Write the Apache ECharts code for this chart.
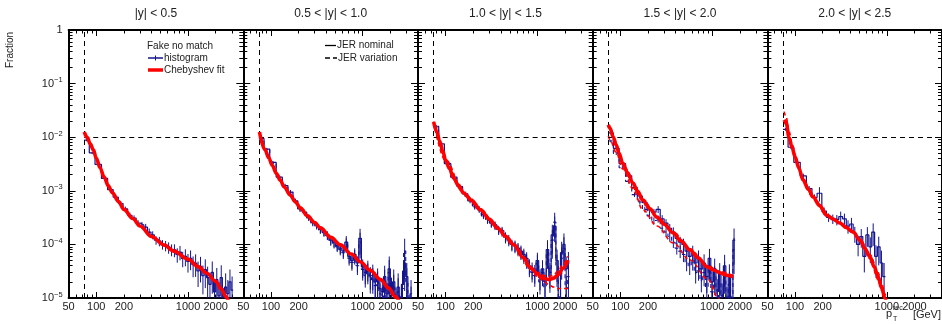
<!DOCTYPE html>
<html><head><meta charset="utf-8">
<script src="https://cdn.jsdelivr.net/npm/echarts@6/dist/echarts.min.js"></script>
<style>html,body{margin:0;padding:0;background:#fff}#c{width:942px;height:324px}</style>
</head><body><div id="c"></div>
<script>
// ---------------- data ----------------
const panelTitles = ['|y| < 0.5', '0.5 < |y| < 1.0', '1.0 < |y| < 1.5', '1.5 < |y| < 2.0', '2.0 < |y| < 2.5'];
const xTickLabels = [50, 100, 200, 1000, 2000];
const xMajorTicks = [100, 1000];
const xMinorTicks = [60, 70, 80, 90, 200, 300, 400, 500, 600, 700, 800, 900, 2000, 3000];
const yTickExponents = [-5, -4, -3, -2, -1, 0];
const xRange = [50, 4000];
const yRange = [1e-5, 1];
const jetPtCut = 74;
const fractionRef = 0.01;

const binEdges = [74,84,97,114,133,153,174,196,220,245,272,300,330,362,395,430,468,507,548,592,638,686,737,790,846,905,967,1032,1101,1172,1248,1327,1410,1497,1588,1684,1784,1890,2000,2116,2238,2366,2500,2640,2787,2941,3103,3273,3450];

// |y| < 0.5
const hist1 = [0.0088,0.0051,0.0031,0.0017,0.00105,7.6e-4,5.8e-4,4.6e-4,3.5e-4,3.1e-4,2.5e-4,2.3e-4,2.1e-4,1.7e-4,1.5e-4,1.2e-4,1.15e-4,1.0e-4,9.5e-5,8.8e-5,8.0e-5,7.9e-5,6.5e-5,7.2e-5,5.5e-5,6.0e-5,4.8e-5,5.5e-5,4.2e-5,4.5e-5,3.2e-5,3.9e-5,2.6e-5,3.4e-5,2.4e-5,1.8e-5,3.0e-5,1.3e-5,2.2e-5,1.1e-5,2.4e-5,8e-6,1.6e-5,1.2e-5,2.0e-5,1.4e-5];
const relErr1 = [0.05,0.05,0.06,0.07,0.08,0.09,0.1,0.1,0.12,0.12,0.13,0.14,0.15,0.16,0.17,0.18,0.2,0.2,0.22,0.24,0.25,0.27,0.3,0.3,0.32,0.35,0.38,0.4,0.42,0.45,0.5,0.5,0.55,0.55,0.6,0.65,0.6,0.7,0.65,0.8,0.7,0.9,0.8,0.8,0.7,0.8];
const fit1X = [74,80,86,93,100,110,122,135,150,175,200,250,300,400,550,700,1000,1300,1600,2000,2300,2600,2800];
const fit1Y = [0.0125,0.0098,0.0075,0.0058,0.0041,0.0027,0.0018,0.00125,9.2e-4,6.3e-4,4.5e-4,3.05e-4,2.2e-4,1.4e-4,9.7e-5,7.5e-5,5.3e-5,3.8e-5,2.9e-5,2.05e-5,1.47e-5,1.05e-5,8e-6];

// 0.5 < |y| < 1.0
const hist2 = [0.0095,0.0060,0.0034,0.0018,0.00125,9.5e-4,6.5e-4,4.6e-4,4.0e-4,3.2e-4,2.6e-4,2.3e-4,1.9e-4,1.7e-4,1.5e-4,1.2e-4,1.1e-4,9.5e-5,8.5e-5,7.5e-5,1.1e-4,6.0e-5,5.0e-5,6.5e-5,4.5e-5,1.3e-4,3.8e-5,3.0e-5,3.5e-5,2.6e-5,2.8e-5,2.0e-5,2.3e-5,1.5e-5,1.3e-5,2.5e-5,1.2e-5,3.5e-5,1.5e-5,2.0e-5,9e-6,1.6e-5,6e-6,1.8e-5,4.5e-5,2.5e-5,6e-6,1.2e-5];
const hist2Var = [0.0093,0.0058,0.0033,0.0018,0.0012,9.2e-4,6.3e-4,4.5e-4,3.9e-4,3.1e-4,2.5e-4,2.2e-4,1.85e-4,1.65e-4,1.45e-4,1.15e-4,1.05e-4,9.0e-5,8.0e-5,7.0e-5,1.0e-4,5.5e-5,4.6e-5,6.0e-5,4.0e-5,1.1e-4,3.4e-5,2.6e-5,3.1e-5,2.2e-5,2.4e-5,1.7e-5,2.0e-5,1.2e-5,1.0e-5,2.1e-5,9e-6,3.0e-5,1.2e-5,1.6e-5,7e-6,1.3e-5,4e-6,1.5e-5,7.5e-5,2.0e-5,4e-6,9e-6];
const relErr2 = [0.05,0.05,0.06,0.07,0.08,0.09,0.1,0.1,0.11,0.12,0.13,0.14,0.15,0.16,0.17,0.18,0.2,0.2,0.22,0.24,0.3,0.27,0.3,0.3,0.33,0.5,0.38,0.4,0.42,0.45,0.5,0.5,0.55,0.55,0.6,0.6,0.6,0.7,0.6,0.7,0.7,0.8,0.8,0.8,0.7,0.8,0.9,0.8];
const fit2X = [75,86,95,103,115,126,140,162,185,209,250,300,345,450,571,750,946,1200,1567,1900,2285,2500];
const fit2Y = [0.0125,0.0058,0.0041,0.0030,0.0021,0.00158,0.00118,8.3e-4,6.2e-4,4.8e-4,3.4e-4,2.55e-4,2.03e-4,1.35e-4,9.8e-5,6.6e-5,4.7e-5,3.3e-5,2.2e-5,1.55e-5,1.05e-5,8.5e-6];

// 1.0 < |y| < 1.5
const hist3 = [0.016,0.0075,0.0032,0.0018,0.0012,8.8e-4,6.8e-4,5.2e-4,4.6e-4,3.6e-4,3.0e-4,2.5e-4,2.3e-4,1.9e-4,1.8e-4,1.4e-4,1.25e-4,1.0e-4,9.5e-5,8.5e-5,7.5e-5,6.5e-5,5.5e-5,4.0e-5,3.4e-5,3.0e-5,5.0e-5,2.4e-5,3.5e-5,2.0e-5,8.0e-5,3.0e-5,1.5e-4,2.2e-4,5.0e-5,6e-6,7.0e-5,1.0e-4,3.5e-5,4.5e-5];
const hist3Var = [0.015,0.0072,0.0031,0.0017,0.00115,8.5e-4,6.5e-4,5.0e-4,4.4e-4,3.4e-4,2.8e-4,2.4e-4,2.2e-4,1.8e-4,1.7e-4,1.3e-4,1.15e-4,9.5e-5,9.0e-5,8.0e-5,7.0e-5,6.0e-5,5.0e-5,3.6e-5,3.0e-5,2.6e-5,4.5e-5,2.0e-5,3.0e-5,1.6e-5,7.0e-5,2.5e-5,1.2e-4,2.6e-4,4.0e-5,5e-6,5.5e-5,8.5e-5,1.5e-5,2.5e-5];
const relErr3 = [0.06,0.06,0.07,0.08,0.09,0.1,0.1,0.11,0.12,0.13,0.14,0.15,0.16,0.17,0.18,0.2,0.2,0.22,0.24,0.25,0.27,0.28,0.3,0.32,0.35,0.38,0.4,0.42,0.45,0.5,0.5,0.5,0.55,0.5,0.6,0.8,0.6,0.6,0.7,0.6];
const fit3X = [74,80,86,93,100,110,122,138,157,190,241,300,370,450,555,700,851,1000,1094,1200,1340,1500,1680,1900,2160];
const fit3Y = [0.0194,0.0128,0.0085,0.0056,0.0037,0.0026,0.00173,0.00126,9.1e-4,6.7e-4,4.4e-4,2.95e-4,2.0e-4,1.42e-4,9.8e-5,5.7e-5,3.6e-5,2.83e-5,2.47e-5,2.3e-5,2.2e-5,2.35e-5,2.7e-5,3.6e-5,5.1e-5];
const fit3VarX = [74,100,157,241,370,555,851,1000,1200,1340,1500,1680,1900,2160];
const fit3VarDownY = [0.019,0.0036,9.0e-4,4.35e-4,1.98e-4,9.6e-5,3.4e-5,2.5e-5,2.0e-5,1.75e-5,1.6e-5,1.5e-5,1.5e-5,1.5e-5];
const fit3VarUpY = [0.0196,0.0038,9.2e-4,4.45e-4,2.02e-4,1.0e-4,3.8e-5,3.0e-5,2.6e-5,2.5e-5,2.7e-5,3.2e-5,4.3e-5,6.0e-5];

// 1.5 < |y| < 2.0
const hist4 = [0.012,0.0062,0.0032,0.0019,0.00115,8.0e-4,6.0e-4,4.4e-4,4.0e-4,4.5e-4,3.0e-4,2.5e-4,2.0e-4,1.7e-4,1.3e-4,1.1e-4,1.0e-4,7.5e-5,6.0e-5,7.0e-5,4.5e-5,5.5e-5,3.5e-5,4.5e-5,2.5e-5,5.5e-5,2.0e-5,3.5e-5,1.4e-5,2.8e-5,1.1e-5,4.0e-5,9e-6,2.5e-5,6e-6,1.2e-4];
const hist4Var = [0.0085,0.0050,0.0027,0.0015,8.5e-4,6.2e-4,4.5e-4,3.4e-4,2.8e-4,3.0e-4,2.0e-4,1.7e-4,1.4e-4,1.1e-4,8.5e-5,7.5e-5,6.5e-5,4.5e-5,4.0e-5,5.0e-5,3.0e-5,3.5e-5,2.2e-5,3.0e-5,1.6e-5,4.0e-5,1.3e-5,2.5e-5,9e-6,2.0e-5,7e-6,3.0e-5,6e-6,1.8e-5,5e-6,8e-5];
const relErr4 = [0.06,0.07,0.08,0.09,0.1,0.11,0.12,0.13,0.14,0.15,0.17,0.18,0.2,0.22,0.24,0.26,0.28,0.3,0.33,0.35,0.38,0.4,0.42,0.45,0.5,0.5,0.55,0.55,0.6,0.6,0.7,0.6,0.8,0.7,0.8,0.65];
const fit4X = [74,77,84,90,97,106,120,137,155,176,210,251,300,375,460,574,700,884,1050,1227,1450,1700];
const fit4Y = [0.017,0.0148,0.0100,0.0072,0.0050,0.0033,0.00217,0.00139,9.7e-4,6.7e-4,4.6e-4,3.2e-4,2.38e-4,1.64e-4,1.16e-4,7.9e-5,5.65e-5,3.8e-5,3.3e-5,2.93e-5,2.65e-5,2.47e-5];
const fit4VarDownX = [74,77,90,106,137,176,251,375,574,884,1170,1300];
const fit4VarDownY = [0.0105,0.009,0.0052,0.0026,0.0011,4.4e-4,2.2e-4,1.07e-4,5.1e-5,2.3e-5,1.0e-5,7e-6];
const fit4VarUpX = [74,77,90,106,137,176,251,375,574,884,1227,1700];
const fit4VarUpY = [0.017,0.015,0.0074,0.0034,0.00142,6.9e-4,3.3e-4,1.7e-4,8.2e-5,4.0e-5,3.1e-5,2.6e-5];

// 2.0 < |y| < 2.5
const hist5 = [0.014,0.0065,0.0034,0.0019,0.0011,7.5e-4,9.0e-4,4.2e-4,3.2e-4,3.0e-4,2.9e-4,3.3e-4,3.0e-4,2.2e-4,2.4e-4,1.6e-4,1.0e-4,1.4e-4,6.0e-5,1.5e-4,9.0e-5,1.7e-4,6.0e-5,9.0e-5,4.5e-5,2.5e-5];
const relErr5 = [0.06,0.07,0.08,0.1,0.12,0.14,0.3,0.16,0.18,0.2,0.22,0.24,0.25,0.28,0.3,0.33,0.4,0.38,0.5,0.4,0.5,0.45,0.6,0.55,0.7,0.8];
const fit5X = [76,80,86,93,100,110,122,140,157,185,222,260,308,360,429,511,580,659,730,804,880,953,1000];
const fit5Y = [0.021,0.019,0.010,0.0064,0.0043,0.00267,0.0016,0.00107,7.7e-4,5.3e-4,3.5e-4,2.98e-4,2.5e-4,2.08e-4,1.7e-4,1.2e-4,8.3e-5,5.8e-5,3.8e-5,2.5e-5,1.54e-5,1.0e-5,7.5e-6];
const fit5VarX = [76,80,86,93,100,110,122,157,222,308,429,511,659,804,880,953,1000];
const fit5VarUpY = [0.030,0.024,0.013,0.0075,0.0048,0.0028,0.00165,7.8e-4,3.5e-4,2.5e-4,1.72e-4,1.25e-4,6.4e-5,3.0e-5,1.9e-5,1.2e-5,9e-6];
const fit5VarDownY = [0.019,0.017,0.0094,0.006,0.0041,0.0025,0.00155,7.5e-4,3.45e-4,2.45e-4,1.67e-4,1.15e-4,5.4e-5,2.2e-5,1.4e-5,9e-6,7e-6];

// ---------------- layout / style ----------------
const G_LEFT = 68.6, G_W = 174.7, G_TOP = 30, G_H = 268;
const BLUE = '#14148f', RED = '#ff0000', INK = '#222';
const FONT = 'Liberation Sans';

const panels = [
  {hist: hist1, histVar: null, err: relErr1, fit: [fit1X, fit1Y], fitVars: []},
  {hist: hist2, histVar: hist2Var, err: relErr2, fit: [fit2X, fit2Y], fitVars: []},
  {hist: hist3, histVar: hist3Var, err: relErr3, fit: [fit3X, fit3Y], fitVars: [[fit3VarX, fit3VarDownY], [fit3VarX, fit3VarUpY]]},
  {hist: hist4, histVar: hist4Var, err: relErr4, fit: [fit4X, fit4Y], fitVars: [[fit4VarDownX, fit4VarDownY], [fit4VarUpX, fit4VarUpY]]},
  {hist: hist5, histVar: null, err: relErr5, fit: [fit5X, fit5Y], fitVars: [[fit5VarX, fit5VarUpY], [fit5VarX, fit5VarDownY]]}
];

const LX0 = Math.log10(xRange[0]), LX1 = Math.log10(xRange[1]);
const LY0 = Math.log10(yRange[0]), LY1 = Math.log10(yRange[1]);
const xLab = xTickLabels.map(Math.log10);
const xMaj = xMajorTicks.map(Math.log10);
const xMin = xMinorTicks.map(Math.log10);
const yMaj = yTickExponents.slice();
const yMin = [];
for (let k = yTickExponents[0]; k < yTickExponents[yTickExponents.length - 1]; k++)
  for (let m = 2; m <= 9; m++) yMin.push(k + Math.log10(m));

function histLine(vals) {
  const d = [];
  for (let i = 0; i < vals.length; i++) d.push([binEdges[i], vals[i]]);
  d.push([binEdges[vals.length], vals[vals.length - 1]]);
  return d;
}
function histErr(vals, rel) {
  return vals.map((v, i) => {
    const r = rel[i] !== undefined ? rel[i] : 0.5;
    return [Math.sqrt(binEdges[i] * binEdges[i + 1]), v, v * (1 - r), v * (1 + r)];
  });
}
function zip(xs, ys) { return xs.map((x, i) => [x, ys[i]]); }

const grids = [], xAxes = [], yAxes = [], series = [];
function tickAxis(kind, gi, pos, ticks, len, showLine, labelCfg) {
  const isX = kind === 'x';
  return {
    type: 'value', gridIndex: gi, position: pos,
    min: isX ? LX0 : LY0, max: isX ? LX1 : LY1,
    axisLine: {show: showLine, onZero: false, lineStyle: {color: '#000', width: 2}},
    axisTick: {show: true, inside: true, length: len, customValues: ticks, lineStyle: {color: '#000', width: 1}},
    axisLabel: labelCfg || {show: false},
    splitLine: {show: false}, axisPointer: {show: false}, silent: true
  };
}
const xLabelCfg = {
  show: true, customValues: xLab, margin: 3, fontSize: 11, color: INK, fontFamily: FONT, hideOverlap: false,
  formatter: v => String(Math.round(Math.pow(10, v)))
};
const yLabelCfg = {
  show: true, customValues: yMaj, margin: 6, hideOverlap: false,
  formatter: v => (Math.round(v) === 0 ? '{b|1}' : '{b|10}{s|\u2212' + Math.round(-v) + '}'),
  rich: {
    b: {fontSize: 11, lineHeight: 15, color: INK, fontFamily: FONT},
    s: {fontSize: 7.5, lineHeight: 8, verticalAlign: 'top', color: INK, fontFamily: FONT}
  }
};

panels.forEach((p, i) => {
  grids.push({left: G_LEFT + G_W * i, top: G_TOP, width: G_W, height: G_H});
  const xi = xAxes.length, yi = yAxes.length;
  xAxes.push({type: 'log', logBase: 10, gridIndex: i, min: xRange[0], max: xRange[1], show: false});
  xAxes.push(tickAxis('x', i, 'bottom', xMaj, 6, true, xLabelCfg));
  xAxes.push(tickAxis('x', i, 'bottom', xMin, 3.5, false));
  xAxes.push(tickAxis('x', i, 'top', xMaj, 6, true));
  xAxes.push(tickAxis('x', i, 'top', xMin, 3.5, false));
  yAxes.push({type: 'log', logBase: 10, gridIndex: i, min: yRange[0], max: yRange[1], show: false});
  yAxes.push(tickAxis('y', i, 'left', yMaj, 7, true, i === 0 ? yLabelCfg : null));
  yAxes.push(tickAxis('y', i, 'left', yMin, 4, false));
  yAxes.push(tickAxis('y', i, 'right', yMaj, 7, true));
  yAxes.push(tickAxis('y', i, 'right', yMin, 4, false));

  const base = {xAxisIndex: xi, yAxisIndex: yi, silent: true, animation: false};
  // nominal histogram + reference lines
  series.push(Object.assign({}, base, {
    type: 'line', step: 'end', symbol: 'none', z: 3,
    data: histLine(p.hist),
    lineStyle: {color: BLUE, width: 1.2},
    markLine: {
      silent: true, symbol: ['none', 'none'], label: {show: false},
      lineStyle: {color: '#000', type: [5, 4], width: 1},
      data: [
        [{coord: [jetPtCut, yRange[0]]}, {coord: [jetPtCut, yRange[1]]}],
        [{coord: [jetPtCut, fractionRef]}, {coord: [xRange[1], fractionRef]}]
      ]
    }
  }));
  const errSets = [histErr(p.hist, p.err)];
  if (p.histVar) {
    series.push(Object.assign({}, base, {
      type: 'line', step: 'end', symbol: 'none', z: 3,
      data: histLine(p.histVar),
      lineStyle: {color: BLUE, width: 1.1, type: [4, 3]}
    }));
    errSets.push(histErr(p.histVar, p.err));
  }
  errSets.forEach(ed => {
    series.push(Object.assign({}, base, {
      type: 'custom', clip: true, z: 3,
      encode: {x: 0, y: 1},
      data: ed,
      renderItem: (params, api) => {
        const x = api.value(0);
        const a = api.coord([x, api.value(2)]);
        const b = api.coord([x, api.value(3)]);
        return {type: 'line', shape: {x1: a[0], y1: a[1], x2: b[0], y2: b[1]},
                style: {stroke: BLUE, lineWidth: 1}};
      }
    }));
  });
  p.fitVars.forEach(fv => {
    series.push(Object.assign({}, base, {
      type: 'line', symbol: 'none', smooth: 0.35, smoothMonotone: 'x', z: 4,
      data: zip(fv[0], fv[1]),
      lineStyle: {color: RED, width: 1.6, type: [4, 3]}
    }));
  });
  series.push(Object.assign({}, base, {
    type: 'line', symbol: 'none', smooth: 0.35, smoothMonotone: 'x', z: 5,
    data: zip(p.fit[0], p.fit[1]),
    lineStyle: {color: RED, width: 3.6}
  }));
});

function txt(x, y, text, size, align, extra) {
  return Object.assign({type: 'text', x: x, y: y, silent: true, style: {
    text: text, font: size + 'px "' + FONT + '"', fill: INK,
    align: align || 'left', verticalAlign: 'middle', textAlign: align || 'left', textVerticalAlign: 'middle'
  }}, extra || {});
}
function seg(x1, y1, x2, y2, color, width, dash) {
  return {type: 'line', silent: true, shape: {x1, y1, x2, y2},
    style: {stroke: color, lineWidth: width, lineDash: dash || null}};
}

const graphics = [];
panelTitles.forEach((t, i) => graphics.push(txt(G_LEFT + G_W * (i + 0.5), 14, t, 12, 'center')));
graphics.push(txt(10, 50, 'Fraction', 10, 'center', {rotation: Math.PI / 2}));
// legend panel 1
graphics.push(txt(147, 46, 'Fake no match', 10, 'left'));
graphics.push(seg(148, 58, 163, 58, BLUE, 1.5));
graphics.push(seg(155.5, 55.5, 155.5, 60.5, BLUE, 1));
graphics.push(txt(164, 58, 'histogram', 10, 'left'));
graphics.push(seg(148, 70, 163, 70, RED, 3.5));
graphics.push(txt(164, 70, 'Chebyshev fit', 10, 'left'));
// legend panel 2
graphics.push(seg(325, 45.5, 336, 45.5, '#000', 1.3));
graphics.push(txt(337, 45.5, 'JER nominal', 10, 'left'));
graphics.push(seg(325, 58, 337, 58, '#000', 1.3, [5, 3]));
graphics.push(txt(338, 58, 'JER variation', 10, 'left'));
// x-axis title
graphics.push(txt(889, 314, 'p', 11, 'center'));
graphics.push(txt(893, 308, 'rec', 7, 'left'));
graphics.push(txt(893, 319, 'T', 7, 'left'));
graphics.push(txt(941, 315, '[GeV]', 11, 'right'));

const chart = echarts.init(document.getElementById('c'), null, {renderer: 'canvas'});
chart.setOption({
  animation: false,
  backgroundColor: '#fff',
  grid: grids, xAxis: xAxes, yAxis: yAxes, series: series,
  graphic: graphics
});
</script></body></html>
